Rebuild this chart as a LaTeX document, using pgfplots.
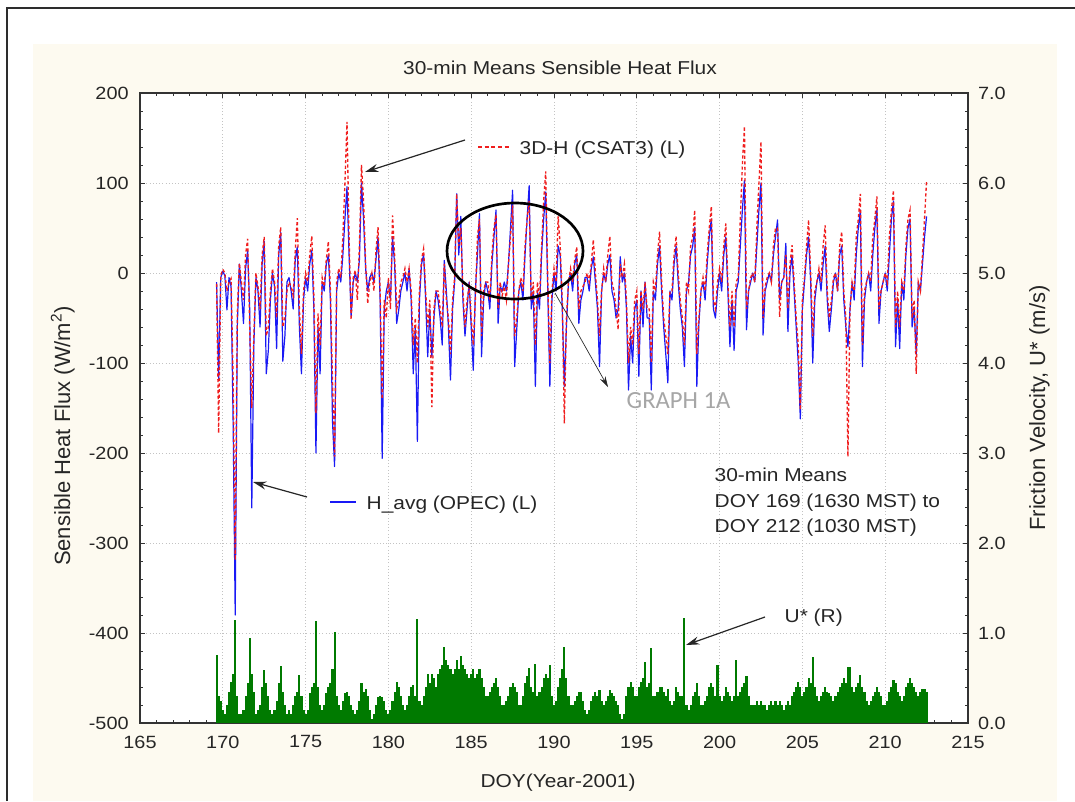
\documentclass[border=0pt]{standalone}
\usepackage{fontspec}
\setmainfont{Liberation Sans}[FakeStretch=1.12]
\newfontfamily\vfont{Liberation Sans}
\newfontfamily\graphfont{Carlito}
\usepackage{pgfplots}
\usepackage{pgfplotstable}
\pgfplotsset{compat=1.18}
\usetikzlibrary{arrows.meta}

\definecolor{panel}{RGB}{253,250,240}
\definecolor{hblue}{RGB}{25,25,245}
\definecolor{hred}{RGB}{240,30,30}
\definecolor{ugreen}{RGB}{0,122,0}
\definecolor{frame}{RGB}{45,45,45}
\definecolor{gridc}{RGB}{195,195,195}

% 30-min flux record, sampled every 0.125 day from DOY 169.625
% H = H_avg (OPEC), R = 3D-H (CSAT3), U = friction velocity
\pgfplotstableread[row sep=\\]{
H R U \\
-10 -12 0.76 \\ -117 -178 0.30 \\ -5 -3 0.25 \\
2 4 0.15 \\ -3 0 0.10 \\ -41 -20 0.20 \\ -5 -10 0.35 \\ -15 -6 0.46 \\ -167 -120 0.55 \\ -380 -319 1.15 \\ -60 -45 0.30 \\
10 11 0.10 \\ -20 -10 0.10 \\ -56 -30 0.15 \\ 5 20 0.30 \\ 25 38 0.45 \\ -40 -60 0.94 \\ -261 -150 0.55 \\ -80 -70 0.35 \\
-5 0 0.10 \\ -20 -15 0.15 \\ -60 -40 0.20 \\ 10 20 0.40 \\ 35 40 0.59 \\ -112 -70 0.45 \\ -86 -60 0.30 \\ -30 -20 0.15 \\
0 5 0.10 \\ -15 -10 0.15 \\ -84 -50 0.25 \\ 20 30 0.45 \\ 45 51 0.63 \\ -98 -60 0.35 \\ -70 -50 0.20 \\ -10 -20 0.10 \\
-5 -10 0.15 \\ -20 -15 0.10 \\ -40 -25 0.20 \\ 15 25 0.30 \\ 29 61 0.35 \\ -60 -40 0.53 \\ -112 -90 0.30 \\ -30 -20 0.15 \\
-5 0 0.10 \\ -20 -10 0.15 \\ 10 20 0.33 \\ 25 41 0.40 \\ -40 -25 0.45 \\ -200 -156 1.13 \\ -60 -45 0.40 \\ -112 -80 0.20 \\
-10 -5 0.15 \\ -20 -15 0.20 \\ 10 15 0.33 \\ 20 35 0.40 \\ -30 -20 0.45 \\ -165 -120 0.60 \\ -215 -204 1.01 \\ -20 -10 0.30 \\
0 5 0.20 \\ -10 -5 0.15 \\ 20 40 0.25 \\ 60 100 0.33 \\ 96 168 0.35 \\ 20 40 0.30 \\ -48 -52 0.20 \\ -10 -5 0.15 \\
0 3 0.10 \\ -10 -30 0.15 \\ 15 30 0.25 \\ 100 120 0.44 \\ 60 80 0.35 \\ 5 10 0.38 \\ -20 -34 0.30 \\ -5 -10 0.15 \\
0 0 0.05 \\ -10 -20 0.10 \\ 15 25 0.20 \\ 40 51 0.29 \\ -30 -20 0.30 \\ -206 -140 0.29 \\ -40 -30 0.25 \\ -20 -50 0.15 \\
-10 -5 0.10 \\ -30 -40 0.15 \\ 40 64 0.25 \\ 10 20 0.35 \\ -56 -40 0.46 \\ -41 -30 0.40 \\ -20 -10 0.30 \\ -10 -5 0.20 \\
0 5 0.15 \\ -20 -10 0.20 \\ 5 5 0.30 \\ -30 -20 0.40 \\ -112 -80 0.42 \\ -60 -50 0.30 \\ -187 -100 1.16 \\ -30 -20 0.25 \\
10 15 0.20 \\ 20 27 0.30 \\ -30 -20 0.40 \\ -93 -60 0.55 \\ -40 -30 0.45 \\ -93 -149 0.55 \\ -50 -40 0.50 \\ -20 -20 0.40 \\
-30 -20 0.55 \\ -50 -40 0.60 \\ -80 -60 0.65 \\ 14 10 0.85 \\ -20 -30 0.70 \\ -60 -50 0.65 \\ -119 -90 0.60 \\ -40 -30 0.55 \\
-10 -5 0.60 \\ 88 88 0.70 \\ 20 30 0.60 \\ 63 50 0.75 \\ -30 -20 0.65 \\ -70 -60 0.60 \\ -40 -30 0.55 \\ -10 -15 0.50 \\
-60 -50 0.55 \\ -108 -80 0.60 \\ -20 -30 0.50 \\ 20 40 0.55 \\ 66 60 0.60 \\ -93 -70 0.50 \\ -30 -20 0.40 \\ -10 -10 0.30 \\
-20 -10 0.30 \\ -40 -30 0.35 \\ 10 20 0.40 \\ 40 50 0.45 \\ 70 65 0.50 \\ -56 -40 0.40 \\ -15 -10 0.30 \\ -20 -25 0.20 \\
-10 -15 0.20 \\ -20 -30 0.25 \\ 10 10 0.30 \\ 50 40 0.40 \\ 92 75 0.45 \\ -104 -70 0.40 \\ -63 -50 0.35 \\ -20 -20 0.20 \\
-10 -5 0.20 \\ -30 -20 0.30 \\ 20 30 0.45 \\ 60 60 0.52 \\ 97 80 0.61 \\ -40 -30 0.40 \\ -20 -10 0.35 \\ -126 -80 0.66 \\
-20 -10 0.30 \\ -40 -30 0.35 \\ 20 30 0.40 \\ 60 80 0.50 \\ 90 113 0.55 \\ -20 -10 0.50 \\ -126 -100 0.64 \\ -30 -20 0.30 \\
0 5 0.20 \\ -20 -10 0.25 \\ 30 63 0.40 \\ 20 30 0.50 \\ -40 -30 0.60 \\ -126 -167 0.84 \\ -60 -50 0.50 \\ -10 -10 0.30 \\
0 5 0.20 \\ -20 -10 0.20 \\ 10 15 0.25 \\ 20 29 0.30 \\ -56 -40 0.35 \\ -30 -20 0.35 \\ -20 -15 0.25 \\ -5 -10 0.15 \\
-5 0 0.10 \\ -20 -10 0.15 \\ 5 10 0.25 \\ 18 37 0.30 \\ -10 0 0.35 \\ -40 -30 0.30 \\ -104 -70 0.37 \\ -20 -20 0.25 \\
0 5 0.20 \\ -10 -10 0.25 \\ 10 20 0.30 \\ 20 41 0.37 \\ -20 -10 0.33 \\ -30 -20 0.30 \\ -50 -40 0.25 \\ -40 -63 0.20 \\
18 10 0.10 \\ -10 -5 0.05 \\ 0 10 0.10 \\ -40 -30 0.30 \\ -130 -100 0.40 \\ -70 -60 0.46 \\ -100 -80 0.40 \\ -40 -30 0.30 \\
-30 -20 0.30 \\ -115 -90 0.40 \\ -20 -20 0.46 \\ -60 -40 0.50 \\ -10 -10 0.68 \\ -50 -40 0.40 \\ -50 -40 0.45 \\ -130 -100 0.83 \\
-20 -10 0.30 \\ -30 -20 0.30 \\ 10 20 0.35 \\ 30 46 0.40 \\ -20 -10 0.40 \\ -60 -50 0.35 \\ -90 -70 0.30 \\ -122 -90 0.38 \\
-20 -20 0.25 \\ -30 -20 0.20 \\ 10 20 0.25 \\ 30 41 0.40 \\ -10 0 0.35 \\ -40 -30 0.30 \\ -60 -50 0.30 \\ -104 -80 1.17 \\
-20 -10 0.20 \\ -10 -20 0.15 \\ 20 30 0.20 \\ 30 40 0.30 \\ 51 70 0.35 \\ -126 -90 0.44 \\ -56 -50 0.30 \\ -20 -20 0.20 \\
-10 -5 0.20 \\ -30 -20 0.25 \\ 10 20 0.30 \\ 40 50 0.40 \\ 60 74 0.45 \\ -40 -30 0.40 \\ -50 -40 0.30 \\ -20 -10 0.64 \\
0 5 0.30 \\ -20 -10 0.25 \\ 20 30 0.30 \\ 40 55 0.40 \\ -20 -10 0.35 \\ -82 -60 0.30 \\ -30 -20 0.25 \\ -86 -60 0.30 \\
-20 -10 0.70 \\ -10 -5 0.30 \\ 30 60 0.35 \\ 70 120 0.40 \\ 103 163 0.45 \\ -63 -40 0.52 \\ -20 -20 0.30 \\ -10 -5 0.20 \\
0 0 0.20 \\ -10 -10 0.20 \\ 30 50 0.25 \\ 70 100 0.20 \\ 100 146 0.25 \\ -69 -50 0.20 \\ -20 -15 0.20 \\ -10 -5 0.15 \\
0 0 0.20 \\ -10 -10 0.25 \\ 20 30 0.20 \\ 40 50 0.25 \\ 59 50 0.20 \\ -30 -49 0.25 \\ -10 -10 0.20 \\ -5 -5 0.15 \\
33 20 0.20 \\ -65 -40 0.25 \\ 0 10 0.20 \\ 20 31 0.30 \\ -20 -10 0.35 \\ -60 -50 0.40 \\ -100 -80 0.46 \\ -162 -152 0.40 \\
-40 -30 0.30 \\ -10 -5 0.35 \\ 20 30 0.40 \\ 40 59 0.50 \\ -10 0 0.45 \\ -100 -70 0.73 \\ -30 -20 0.40 \\ -10 -10 0.30 \\
0 5 0.25 \\ -20 -10 0.30 \\ 10 30 0.35 \\ 30 53 0.40 \\ -30 -20 0.35 \\ -65 -50 0.33 \\ -40 -30 0.30 \\ -10 -5 0.25 \\
0 0 0.30 \\ -20 -20 0.35 \\ 20 30 0.40 \\ 30 46 0.45 \\ -30 -20 0.50 \\ -60 -50 0.45 \\ -82 -204 0.62 \\ -40 -40 0.62 \\
-10 -10 0.40 \\ -30 -20 0.35 \\ 20 40 0.40 \\ 50 60 0.45 \\ 70 88 0.53 \\ -104 -80 0.40 \\ -30 -20 0.35 \\ -10 -10 0.25 \\
0 0 0.20 \\ -20 -10 0.24 \\ 20 40 0.30 \\ 50 60 0.35 \\ 70 85 0.40 \\ -56 -40 0.35 \\ -20 -20 0.30 \\ -10 -10 0.20 \\
0 0 0.20 \\ -20 -10 0.25 \\ 20 40 0.35 \\ 60 70 0.40 \\ 80 92 0.48 \\ -82 -60 0.45 \\ -30 -20 0.35 \\ -84 -60 0.30 \\
-10 -10 0.25 \\ -30 -20 0.30 \\ 20 30 0.40 \\ 50 60 0.45 \\ 60 70 0.50 \\ -60 -50 0.45 \\ -40 -30 0.40 \\ -90 -112 0.35 \\
-10 -10 0.30 \\ -20 -20 0.35 \\ 10 20 0.38 \\ 40 60 0.38 \\ 63 103 0.35 \\
}\fluxdata

\pgfplotsset{
  chartframe/.style={
    at={(105pt,-542.25pt)}, anchor=south west,
    scale only axis, width=621pt, height=472.5pt,
    xmin=165, xmax=215,
    tick align=inside,
    major tick length=4pt, minor tick length=2.6pt,
    tick style={black!80, line width=0.6pt},
    axis line style={black!80, line width=0.9pt},
    /pgf/number format/assume math mode=true,
    ticklabel style={font=\fontsize{13.3}{15}\selectfont, text=black!85},
  },
}

\begin{document}
\begin{tikzpicture}[x=0.75pt,y=-0.75pt]
\useasboundingbox (0,0) rectangle (1075,801);
\fill[white] (0,0) rectangle (1075,801);
\fill[panel] (33,44) rectangle (1057,801);
\draw[frame, line width=1.6pt] (7,801) -- (7,8) -- (1075,8);

% left axis: sensible heat flux
\begin{axis}[
  chartframe,
  ymin=-500, ymax=200,
  xtick={165,170,...,215}, ytick={-500,-400,...,200},
  minor x tick num=4, minor y tick num=4,
  ytick pos=left,
  grid=major,
  major grid style={gridc, dotted, line width=0.7pt},
  axis background/.style={fill=white},
  xticklabel style={yshift=-6pt},
  yticklabel style={xshift=-5pt},
]
\addplot[hblue, line width=0.9pt, line join=round]
  table[x expr=169.625+\coordindex*0.125, y=H] {\fluxdata};
\addplot[hred, line width=1.0pt, dash pattern=on 2.4pt off 1.8pt]
  table[x expr=169.625+\coordindex*0.125, y=R] {\fluxdata};
\end{axis}

% right axis: friction velocity
\begin{axis}[
  chartframe,
  ymin=0, ymax=7,
  hide x axis,
  ytick={0,1,...,7}, minor y tick num=4,
  ytick pos=right, yticklabel pos=right,
  yticklabel style={xshift=4pt, /pgf/number format/.cd, fixed, fixed zerofill, precision=1},
]
\addplot[ycomb, ugreen, line width=1.6pt]
  table[x expr=169.625+\coordindex*0.125, y=U] {\fluxdata};
\end{axis}

% titles
\node[anchor=base, font=\fontsize{14}{16}\selectfont, text=black!85] at (560,74) {30-min Means Sensible Heat Flux};
\node[anchor=base, font=\fontsize{14}{16}\selectfont, text=black!85] at (558,787) {DOY(Year-2001)};
\node[rotate=90, anchor=base, font=\vfont\fontsize{16.5}{18}\selectfont, text=black!85] at (70,436) {Sensible Heat Flux (W/m\textsuperscript{2})};
\node[rotate=90, anchor=base, font=\vfont\fontsize{16.5}{18}\selectfont, text=black!85] at (1045,408) {Friction Velocity, U* (m/s)};

% series labels
\draw[hred, line width=1pt, dash pattern=on 3pt off 2pt] (478,147) -- (510,147);
\node[anchor=base west, font=\fontsize{14}{16}\selectfont, text=black!85] at (515,154) {3D-H (CSAT3) (L)};
\draw[-{Stealth[length=10pt,width=6pt]}, line width=0.9pt, black!85] (465,140) -- (365,172);

\draw[hblue, line width=1pt] (330,502) -- (356,502);
\node[anchor=base west, font=\fontsize{14}{16}\selectfont, text=black!85] at (362,509) {H\_avg (OPEC) (L)};
\draw[-{Stealth[length=10pt,width=6pt]}, line width=0.9pt, black!85] (307,497) -- (253,482);

\node[anchor=base west, font=\fontsize{14}{16}\selectfont, text=black!85] at (780,622) {U* (R)};
\draw[-{Stealth[length=10pt,width=6pt]}, line width=0.9pt, black!85] (765,617) -- (686,645);

% highlighted period
\draw[black, line width=2pt] (515,251) ellipse [x radius=68, y radius=48];
\draw[-{Stealth[length=8pt,width=4.5pt]}, line width=0.5pt, black!85] (555,293) -- (608,387);
\node[anchor=base west, font=\graphfont\fontsize{18.5}{20}\selectfont, text=black!35] at (622,408) {GRAPH 1A};

% period note
\node[anchor=base west, font=\fontsize{14}{16}\selectfont, text=black!85] at (710,481) {30-min Means};
\node[anchor=base west, font=\fontsize{14}{16}\selectfont, text=black!85] at (710,507) {DOY 169 (1630 MST) to};
\node[anchor=base west, font=\fontsize{14}{16}\selectfont, text=black!85] at (710,532) {DOY 212 (1030 MST)};
\end{tikzpicture}
\end{document}
